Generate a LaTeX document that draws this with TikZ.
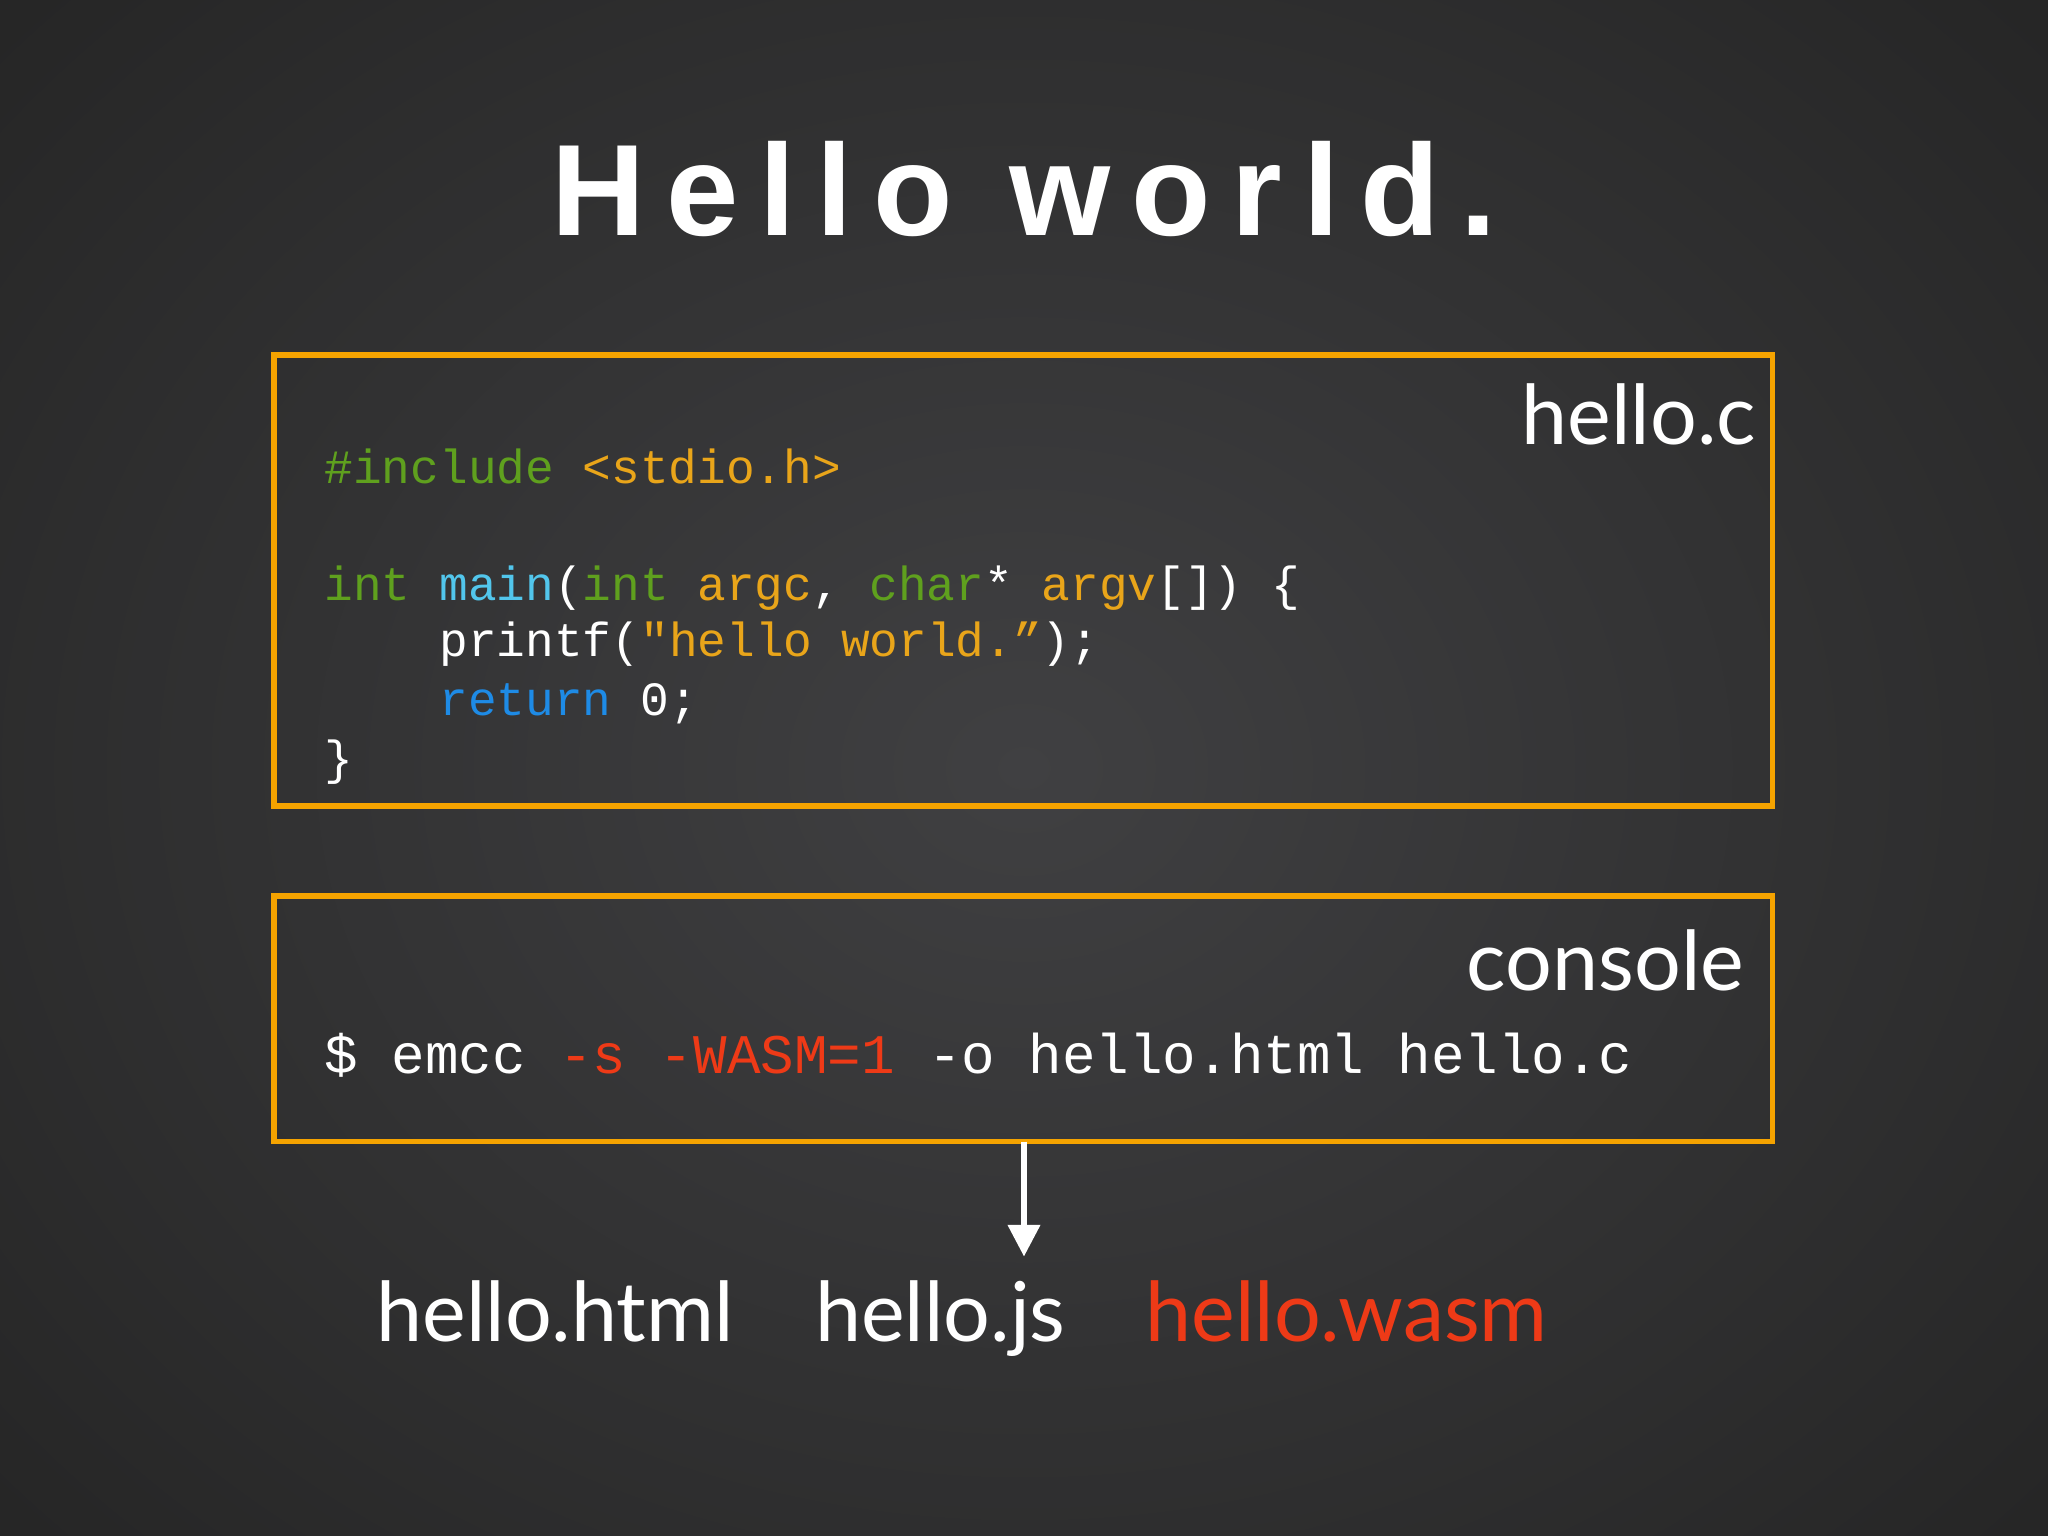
\documentclass[tikz,border=0pt]{standalone}
\usepackage{fontspec}
\setmainfont{Lato}
\setmonofont{Liberation Mono}
\newfontfamily\titlefont[LetterSpace=16]{Liberation Sans Bold}
\usetikzlibrary{arrows.meta}
\definecolor{bgin}{HTML}{404042}
\definecolor{bgout}{HTML}{252525}
\definecolor{boxor}{HTML}{F5A300}
\definecolor{cgreen}{HTML}{5FA01E}
\definecolor{corange}{HTML}{E9A51A}
\definecolor{ccyan}{HTML}{52C6EC}
\definecolor{cblue}{HTML}{1E8BE6}
\definecolor{cred}{HTML}{EE3A17}
\begin{document}
\begin{tikzpicture}[x=0.013061cm,y=-0.013061cm,
  frame/.style={draw=boxor,line width=1.6pt},
  lbl/.style={text=white,font=\fontsize{23.5}{28}\selectfont,inner sep=0pt},
  code/.style={anchor=base west,inner sep=0pt,text=white,font=\fontsize{13.6}{16}\selectfont\ttfamily},
  cmd/.style={anchor=base west,inner sep=0pt,text=white,font=\fontsize{15.9}{18}\selectfont\ttfamily}]
\useasboundingbox (0,0) rectangle (1568,1176);
\begin{scope}
\clip (0,0) rectangle (1568,1176);
\shade[inner color=bgin,outer color=bgout] (-300,-300) rectangle (1868,1476);
\end{scope}
\node[text=white,font=\fontsize{37}{44}\selectfont\titlefont,anchor=base] (title) at (784,180) {Hello world.};
\draw[frame] (210,272) rectangle (1357,617);
\node[lbl,anchor=base east] (hc) at (1345,340) {hello.c};
\node[code] (l1) at (248,370) {\textcolor{cgreen}{\#include} \textcolor{corange}{<stdio.h>}};
\node[code] (l2) at (248,460) {\textcolor{cgreen}{int} \textcolor{ccyan}{main}(\textcolor{cgreen}{int} \textcolor{corange}{argc}, \textcolor{cgreen}{char}* \textcolor{corange}{argv}[]) \{};
\node[code] (l3) at (336,503) {printf(\textcolor{corange}{"hello world.”});};
\node[code] (l4) at (336,548) {\textcolor{cblue}{return} 0;};
\node[code] (l5) at (248,593) {\}};
\draw[frame] (210,686) rectangle (1357,874);
\node[lbl,anchor=base east] (con) at (1336,758) {console};
\node[cmd] (c1) at (248,822) {\$ emcc \textcolor{cred}{-s -WASM=1} -o hello.html hello.c};
\coordinate (ast) at (784,874);
\coordinate (aend) at (784,962);
\draw[white,line width=1.5pt,-{Triangle[length=9pt,width=9pt]}] (ast) -- (aend);
\node[lbl,anchor=base] (h1) at (425,1027) {hello.html};
\node[lbl,anchor=base] (h2) at (720,1027) {hello.js};
\node[lbl,anchor=base,text=cred] (h3) at (1031,1027) {hello.wasm};
\end{tikzpicture}
\end{document}
